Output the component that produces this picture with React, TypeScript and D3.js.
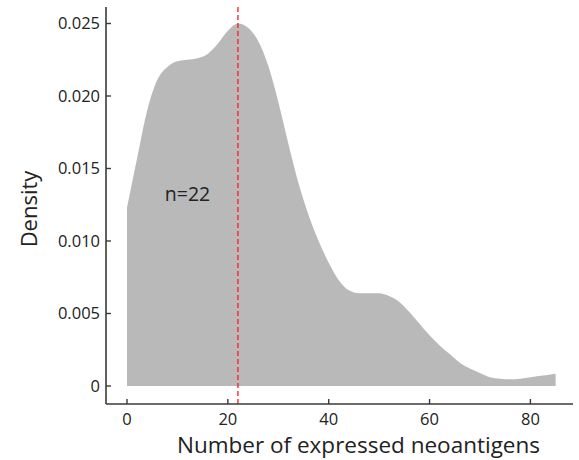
import React from "react";
import * as d3 from "d3";

const xs = [0, 2, 4, 6, 8, 10, 12, 14, 16, 18, 20, 22, 24, 26, 28, 30, 32, 34, 36, 38, 40, 42, 44, 46, 48, 50, 52, 54, 56, 58, 60, 62, 64, 66, 68, 70, 72, 74, 76, 78, 80, 82, 84, 85];
const density = [0.0123, 0.0157, 0.0190, 0.0211, 0.0220, 0.0224, 0.0225, 0.0226, 0.0229, 0.0236, 0.0245, 0.0250, 0.0247, 0.0238, 0.0221, 0.0196, 0.0167, 0.0140, 0.0118, 0.0100, 0.0085, 0.0073, 0.0066, 0.0064, 0.0064, 0.0064, 0.0062, 0.0058, 0.0051, 0.0043, 0.0035, 0.0028, 0.0022, 0.0016, 0.0012, 0.0009, 0.0006, 0.0005, 0.00046, 0.0005, 0.0006, 0.0007, 0.0008, 0.00085];
const xTicks = [0, 20, 40, 60, 80];
const yTicks = [0, 0.005, 0.01, 0.015, 0.02, 0.025];
const yTickLabels = ["0", "0.005", "0.010", "0.015", "0.020", "0.025"];
const medianValue = 22;
const annotation = "n=22";
const xTitle = "Number of expressed neoantigens";
const yTitle = "Density";

export default function App() {
  const x = d3.scaleLinear().domain([0, 80]).range([127, 530.4]);
  const y = d3.scaleLinear().domain([0, 0.025]).range([386, 23.5]);
  const xMin = x.invert(106);
  const xMax = x.invert(573);
  const yMin = y.invert(404);
  const yMax = y.invert(7);

  const pts = xs.map((v, i) => [v, density[i]] as [number, number]);
  const area = d3
    .area<[number, number]>()
    .x((d) => x(d[0]))
    .y0(y(0))
    .y1((d) => y(d[1]))
    .curve(d3.curveMonotoneX);

  const axisColor = "#3a3a3a";
  const font = "'Open Sans', sans-serif";

  return (
    <svg width={579} height={460} style={{ position: "absolute", left: 0, top: 0 }} fontFamily={font}>
      <rect x={0} y={0} width={579} height={460} fill="#fff" />
      <path d={area(pts) || ""} fill="#b9b9b9" />
      <line x1={x(medianValue)} x2={x(medianValue)} y1={y(yMax)} y2={y(yMin)} stroke="#ff1a1a" strokeWidth={1.3} strokeDasharray="5,3" />
      <line x1={x(xMin)} x2={x(xMin)} y1={y(yMax)} y2={y(yMin)} stroke={axisColor} strokeWidth={1.6} />
      <line x1={x(xMin)} x2={x(xMax)} y1={y(yMin)} y2={y(yMin)} stroke={axisColor} strokeWidth={1.6} />
      {yTicks.map((t, i) => (
        <g key={"y" + i}>
          <line x1={x(xMin)} x2={x(xMin) + 5} y1={y(t)} y2={y(t)} stroke={axisColor} strokeWidth={1.4} />
          <text x={x(xMin) - 6} y={y(t)} dy="0.36em" textAnchor="end" fontSize={16.5} fill="#222">
            {yTickLabels[i]}
          </text>
        </g>
      ))}
      {xTicks.map((t, i) => (
        <g key={"x" + i}>
          <line x1={x(t)} x2={x(t)} y1={y(yMin)} y2={y(yMin) - 5} stroke={axisColor} strokeWidth={1.4} />
          <text x={x(t)} y={425} textAnchor="middle" fontSize={16.5} fill="#222">
            {t}
          </text>
        </g>
      ))}
      <text x={187.5} y={201} textAnchor="middle" fontSize={19.5} fill="#222">
        {annotation}
      </text>
      <text x={358.5} y={453} textAnchor="middle" fontSize={22.5} fill="#222">
        {xTitle}
      </text>
      <text transform="translate(37,209) rotate(-90)" textAnchor="middle" fontSize={22} fill="#222">
        {yTitle}
      </text>
    </svg>
  );
}
